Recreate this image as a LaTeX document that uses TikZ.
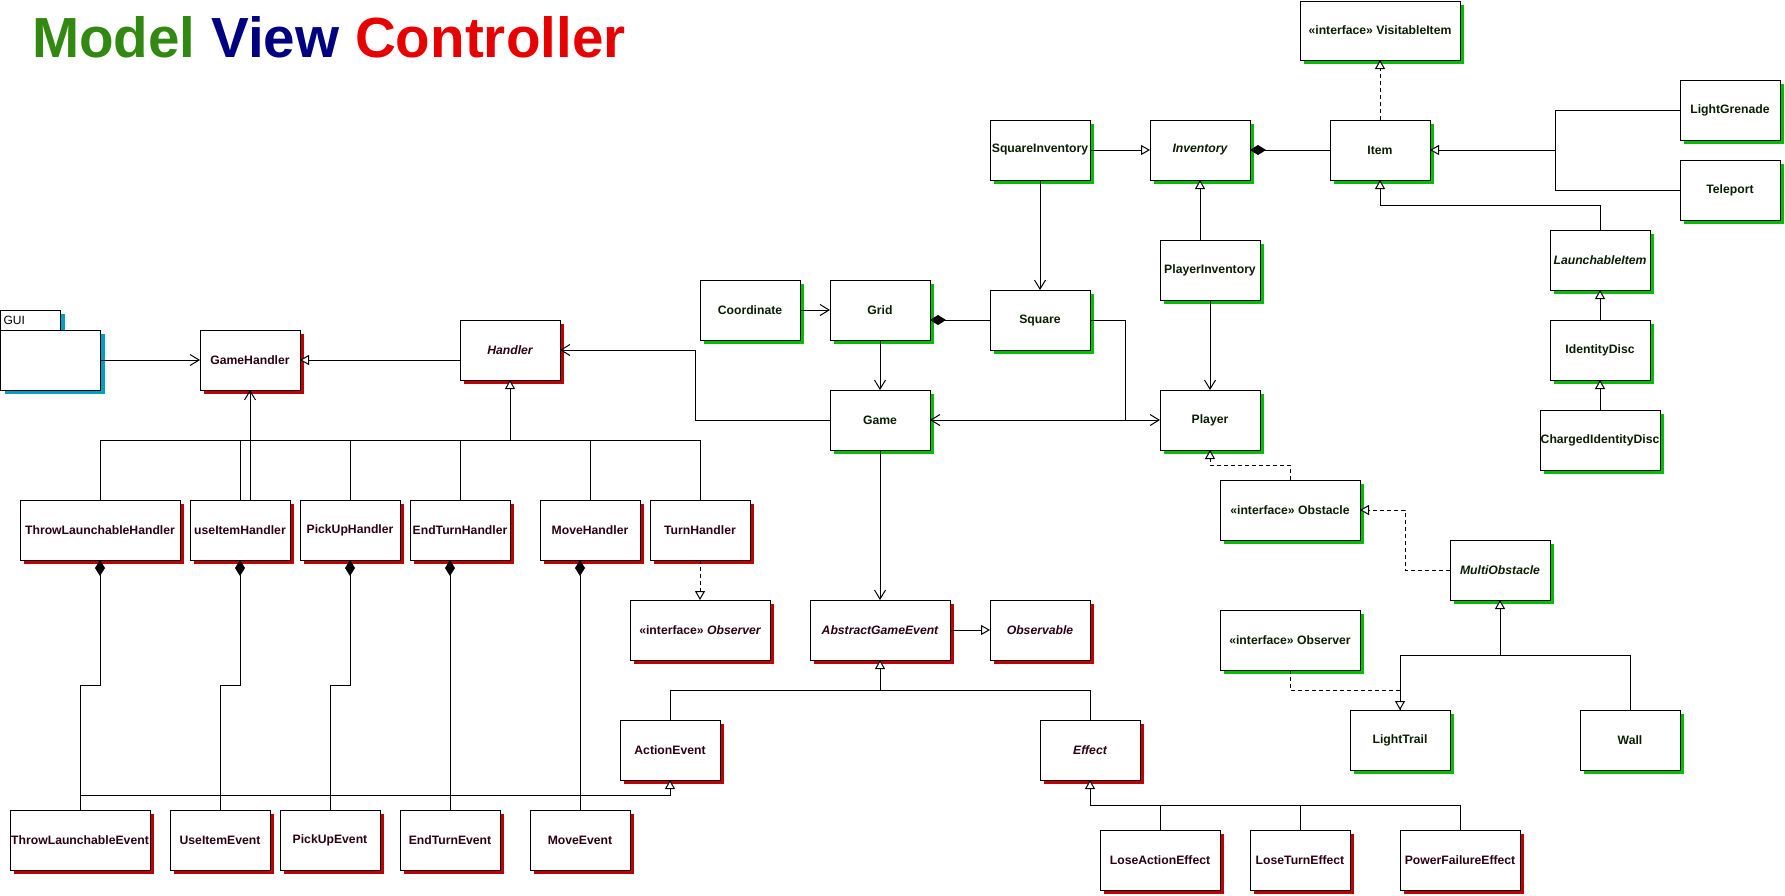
\documentclass[tikz,border=0pt]{standalone}
\usepackage{fontspec}
\setmainfont{Liberation Sans}
\usetikzlibrary{arrows.meta,shadows}
\definecolor{mshadow}{RGB}{0,190,0}
\definecolor{vshadow}{RGB}{192,0,0}
\definecolor{gshadow}{RGB}{0,160,192}
\definecolor{tgreen}{RGB}{50,137,18}
\definecolor{tnavy}{RGB}{0,0,128}
\definecolor{tred}{RGB}{230,0,0}
\definecolor{mtext}{RGB}{10,30,0}
\definecolor{vtext}{RGB}{45,0,20}
\tikzset{
 cls/.style={draw=black, line width=1pt, fill=white, rectangle, inner sep=0pt, outer sep=0pt,
   minimum width=100pt, minimum height=60pt, font=\bfseries\fontsize{12.2}{14}\selectfont},
 mcls/.style={cls, text=mtext, general shadow={fill=mshadow, shadow xshift=4pt, shadow yshift=-4pt}},
 vcls/.style={cls, text=vtext, general shadow={fill=vshadow, shadow xshift=4pt, shadow yshift=-4pt}},
 guitab/.style={draw=black, line width=1pt, fill=white, rectangle, inner xsep=3pt, inner ysep=0pt, outer sep=0pt,
   minimum width=60pt, minimum height=20pt, text width=54pt, align=left, font=\fontsize{12}{14}\selectfont,
   general shadow={fill=gshadow, shadow xshift=4pt, shadow yshift=-4pt}},
 guibody/.style={draw=black, line width=1pt, fill=white, rectangle, inner sep=0pt, outer sep=0pt,
   minimum width=100pt, minimum height=60pt,
   general shadow={fill=gshadow, shadow xshift=4pt, shadow yshift=-4pt}},
 link/.style={line width=1pt, draw=black},
 assoc/.style={link, -{Straight Barb[length=9pt,width=11pt]}},
 biassoc/.style={link, {Straight Barb[length=9pt,width=11pt]}-{Straight Barb[length=9pt,width=11pt]}},
 inh/.style={link, -{Triangle[length=9pt,width=10pt,fill=white]}},
 real/.style={inh, dash pattern=on 4pt off 3pt},
 comp/.style={link, {Diamond[length=16pt,width=10pt]}-},
}
\begin{document}
\begin{tikzpicture}[x=1pt,y=-1pt]
\useasboundingbox (0,0) rectangle (1785,895);
% title
\node[anchor=base west, inner sep=0pt, font=\bfseries\fontsize{56.6}{60}\selectfont] (title) at (32,57)
  {\textcolor{tgreen}{Model} \textcolor{tnavy}{View} \textcolor{tred}{Controller}};
% GUI package
\node[guitab] (guitab) at (30.5,320) {GUI};
\node[guibody] (gui) at (50.5,360) {};
% Model classes
\node[mcls, minimum width=160pt, minimum height=59pt] (visitable) at (1380,30.5) {«interface» VisitableItem};
\node[mcls] (item) at (1380,150) {Item};
\node[mcls] (lightgrenade) at (1730,110) {LightGrenade};
\node[mcls] (teleport) at (1730,190) {Teleport};
\node[mcls] (squareinv) at (1040,150) {SquareInventory};
\node[mcls] (inventory) at (1200,150) {\itshape Inventory};
\node[mcls] (playerinv) at (1210,270) {PlayerInventory};
\node[mcls] (launchable) at (1600,260) {\itshape LaunchableItem};
\node[mcls] (identity) at (1600,350) {IdentityDisc};
\node[mcls, minimum width=120pt] (charged) at (1600,440) {ChargedIdentityDisc};
\node[mcls] (coordinate) at (750,310) {Coordinate};
\node[mcls] (grid) at (880,310) {Grid};
\node[mcls] (square) at (1040,320) {Square};
\node[mcls] (game) at (880,420) {Game};
\node[mcls] (player) at (1210,420) {Player};
\node[mcls, minimum width=140pt] (obstacle) at (1290,510) {«interface» Obstacle};
\node[mcls] (multi) at (1500,570) {\itshape MultiObstacle};
\node[mcls, minimum width=140pt] (mobserver) at (1290,640) {«interface» Observer};
\node[mcls] (lighttrail) at (1400,740) {LightTrail};
\node[mcls] (wall) at (1630,740) {Wall};
% View / Controller classes
\node[vcls] (gamehandler) at (250,360) {GameHandler};
\node[vcls] (handler) at (510,350) {\itshape Handler};
\node[vcls, minimum width=160pt] (throwh) at (100,530) {ThrowLaunchableHandler};
\node[vcls] (useh) at (240,530) {useItemHandler};
\node[vcls] (pickuph) at (350,530) {PickUpHandler};
\node[vcls] (endturnh) at (460,530) {EndTurnHandler};
\node[vcls] (moveh) at (590,530) {MoveHandler};
\node[vcls] (turnh) at (700,530) {TurnHandler};
\node[vcls, minimum width=140pt] (vobserver) at (700,630) {«interface» \itshape Observer};
\node[vcls, minimum width=140pt] (age) at (880,630) {\itshape AbstractGameEvent};
\node[vcls] (observable) at (1040,630) {\itshape Observable};
\node[vcls] (actionevent) at (670,750) {ActionEvent};
\node[vcls] (effect) at (1090,750) {\itshape Effect};
\node[vcls, minimum width=140pt] (throwe) at (80,840) {ThrowLaunchableEvent};
\node[vcls] (usee) at (220,840) {UseItemEvent};
\node[vcls] (pickupe) at (330,840) {PickUpEvent};
\node[vcls] (endturne) at (450,840) {EndTurnEvent};
\node[vcls] (movee) at (580,840) {MoveEvent};
\node[vcls, minimum width=120pt] (loseaction) at (1160,860) {LoseActionEffect};
\node[vcls] (loseturn) at (1300,860) {LoseTurnEffect};
\node[vcls, minimum width=120pt] (powerfail) at (1460,860) {PowerFailureEffect};
% junction coordinates
\coordinate (hbus) at (510,440);
\coordinate (cj) at (0,685);
\coordinate (ebus) at (0,795);
\coordinate (gh) at (695,420);
\coordinate (sq) at (1125,420);
\coordinate (lt) at (1555,150);
\coordinate (li) at (1380,205);
\coordinate (op) at (1210,465);
\coordinate (mo) at (1405,570);
\coordinate (mb) at (1500,655);
\coordinate (ol) at (1400,690);
\coordinate (ab) at (880,690);
\coordinate (eb) at (1090,805);
% connectors: controller side
\draw[assoc] (gui.east) -- (gamehandler.west);
\draw[inh] (handler.west |- gamehandler.east) -- (gamehandler.east);
\draw[link] (throwh.north) |- (hbus) -| (turnh.north);
\draw[link] (useh.north) -- (useh.north |- hbus);
\draw[link] (pickuph.north) -- (pickuph.north |- hbus);
\draw[link] (endturnh.north) -- (endturnh.north |- hbus);
\draw[link] (moveh.north) -- (moveh.north |- hbus);
\draw[inh] (hbus) -- (handler.south);
\draw[assoc] ([xshift=10pt]useh.north) -- (gamehandler.south);
\draw[comp] (throwh.south) -- (throwh.south |- cj) -| (throwe.north);
\draw[comp] (useh.south) -- (useh.south |- cj) -| (usee.north);
\draw[comp] (pickuph.south) -- (pickuph.south |- cj) -| (pickupe.north);
\draw[comp] (endturnh.south -| endturne.north) -- (endturne.north);
\draw[comp] (moveh.south -| movee.north) -- (movee.north);
\draw[inh] (throwe.north |- ebus) -| (actionevent.south);
\draw[real] (turnh.south) -- (vobserver.north);
% connectors: model side
\draw[assoc] (game.west) -- (gh) |- (handler.east);
\draw[assoc] (coordinate.east) -- (grid.west);
\draw[comp] ([yshift=-10pt]grid.east) -- (square.west);
\draw[assoc] (grid.south) -- (game.north);
\draw[assoc] (squareinv.south) -- (square.north);
\draw[link] (square.east) -| (sq);
\draw[biassoc] (game.east) -- (player.west);
\draw[inh] (squareinv.east) -- (inventory.west);
\draw[comp] (inventory.east) -- (item.west);
\draw[inh] ([xshift=-10pt]playerinv.north) -- (inventory.south);
\draw[assoc] (playerinv.south) -- (player.north);
\draw[real] (item.north) -- (visitable.south);
\draw[link] (lightgrenade.west) -| (lt) |- (teleport.west);
\draw[inh] (lt) -- (item.east);
\draw[inh] (launchable.north) |- (li) -- (item.south);
\draw[inh] (identity.north) -- (launchable.south);
\draw[inh] (charged.north) -- (identity.south);
\draw[real] (obstacle.north) |- (op) -- (player.south);
\draw[real] (multi.west) -- (mo) |- (obstacle.east);
\draw[link] (lighttrail.north) |- (mb) -| (wall.north);
\draw[inh] (mb) -- (multi.south);
\draw[real] (mobserver.south) |- (ol) -- (lighttrail.north);
\draw[assoc] (game.south) -- (age.north);
\draw[inh] (age.east) -- (observable.west);
\draw[link] (actionevent.north) |- (ab) -| (effect.north);
\draw[inh] (ab) -- (age.south);
\draw[link] (loseaction.north) |- (eb) -| (powerfail.north);
\draw[link] (loseturn.north) -- (loseturn.north |- eb);
\draw[inh] (eb) -- (effect.south);
\end{tikzpicture}
\end{document}
